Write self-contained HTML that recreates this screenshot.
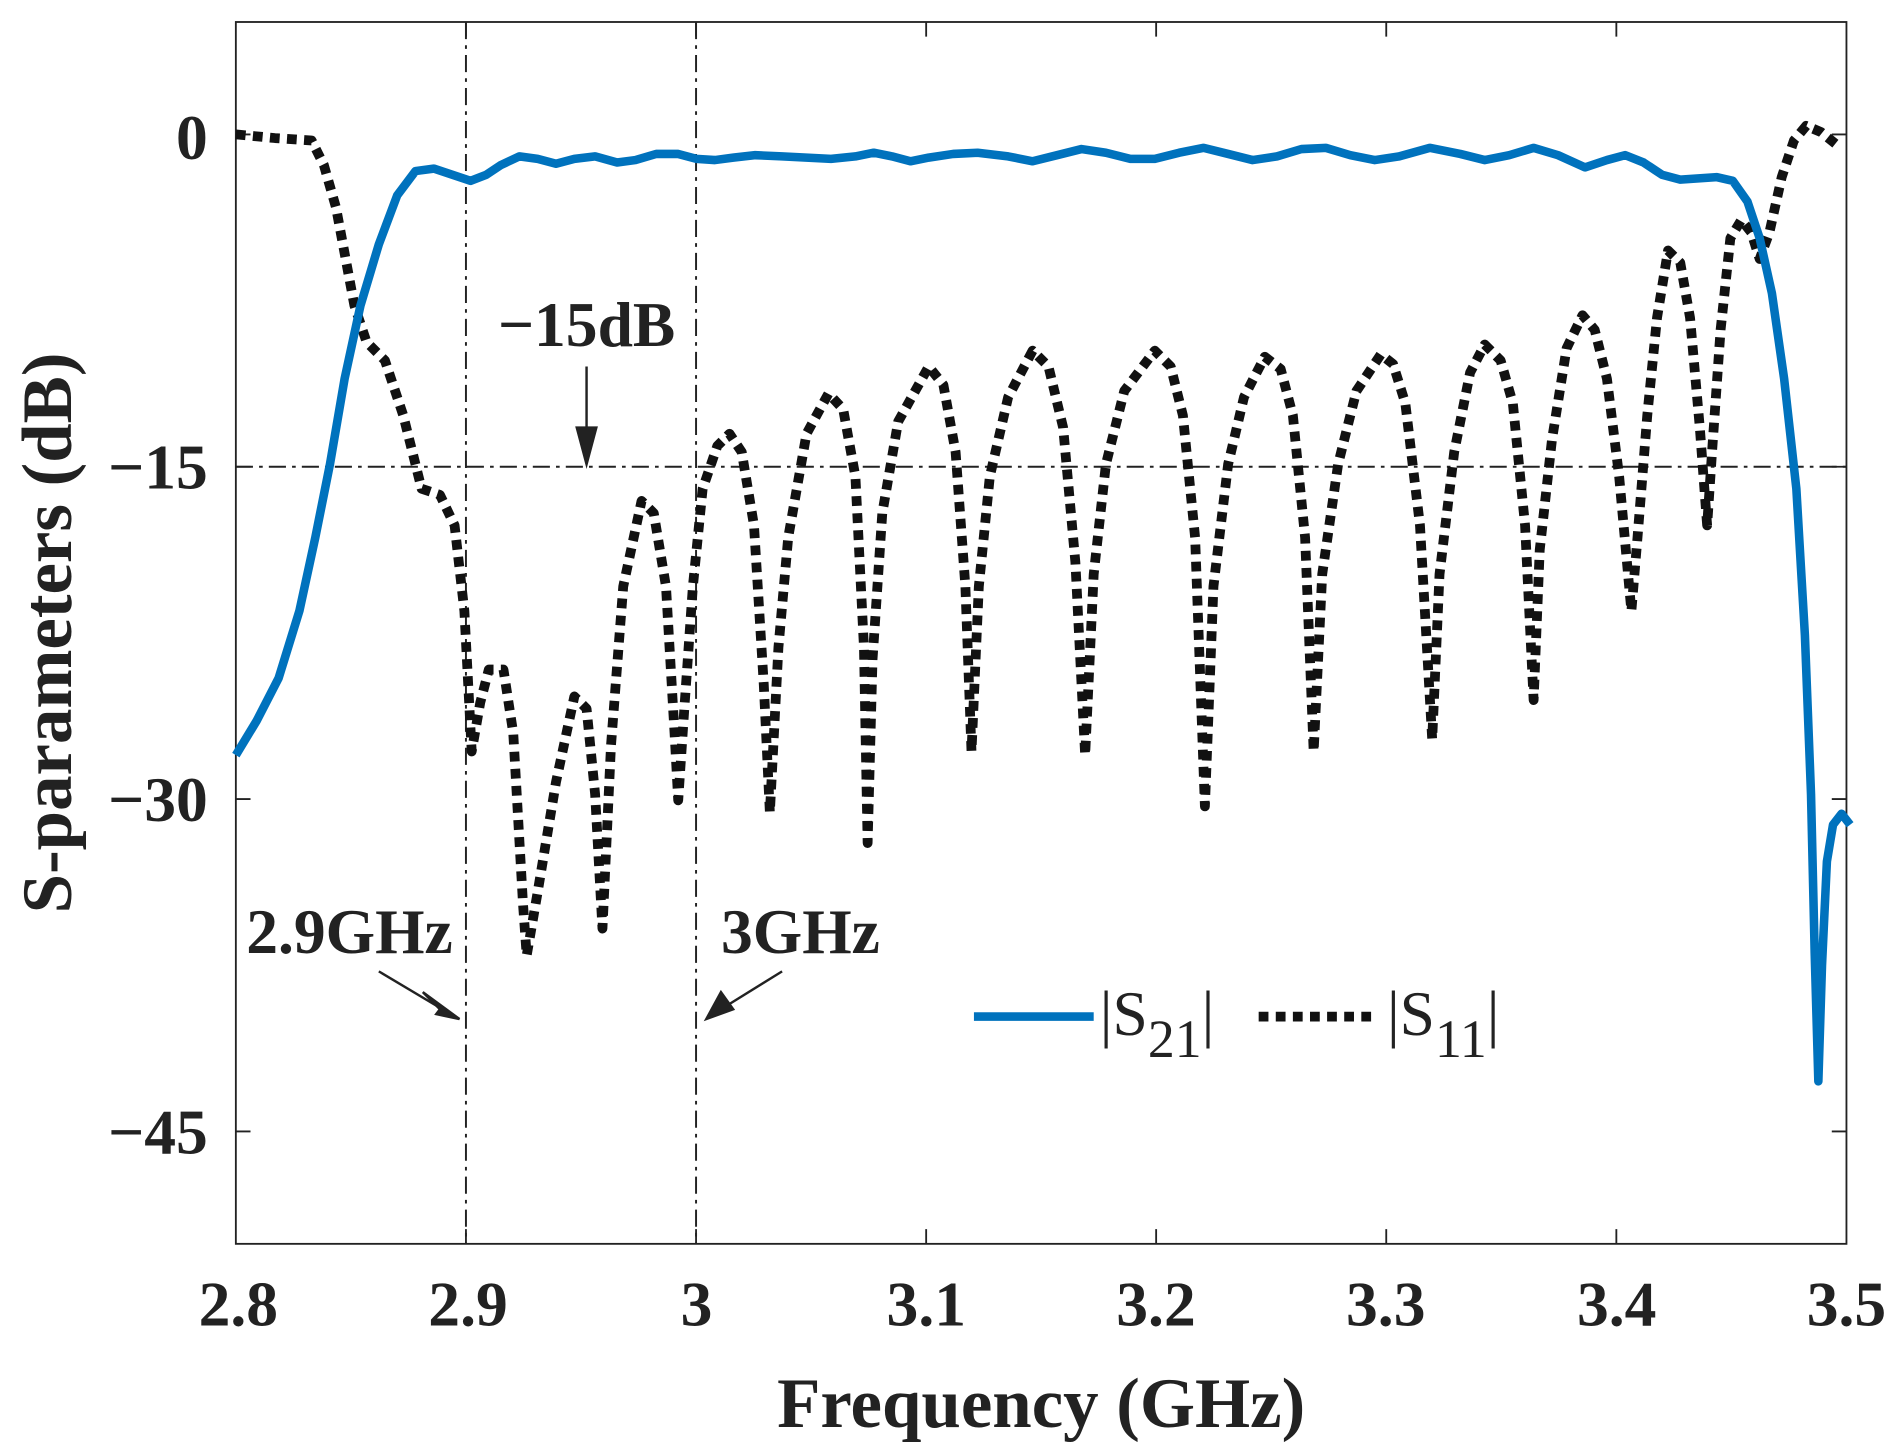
<!DOCTYPE html>
<html><head><meta charset="utf-8"><style>
html,body{margin:0;padding:0;background:#fff;width:1899px;height:1454px;overflow:hidden}
svg{display:block}
text{font-family:"Liberation Serif",serif;fill:#222}
.b{font-weight:bold}
</style></head><body>
<svg width="1899" height="1454" viewBox="0 0 1554 1190" preserveAspectRatio="none" xmlns="http://www.w3.org/2000/svg">
<rect x="193" y="18" width="1318" height="1000" fill="#fff" stroke="#222" stroke-width="1.5"/>
<g stroke="#222" stroke-width="1.5">
<path d="M381.3,18v12M381.3,1018v-12M569.6,18v12M569.6,1018v-12M757.9,18v12M757.9,1018v-12M946.1,18v12M946.1,1018v-12M1134.4,18v12M1134.4,1018v-12M1322.7,18v12M1322.7,1018v-12"/>
<path d="M193,110h12M1511,110h-12M193,382h12M1511,382h-12M193,654h12M1511,654h-12M193,926h12M1511,926h-12"/>
</g>
<g font-size="52" text-anchor="middle">
<text x="195" y="1085" class="b">2.8</text><text x="383" y="1085" class="b">2.9</text><text x="570" y="1085" class="b">3</text><text x="758" y="1085" class="b">3.1</text><text x="946" y="1085" class="b">3.2</text><text x="1134" y="1085" class="b">3.3</text><text x="1323" y="1085" class="b">3.4</text><text x="1511" y="1085" class="b">3.5</text>
</g>
<g font-size="52" text-anchor="end">
<text x="170" y="130" class="b">0</text><text x="170" y="400" class="b">−15</text><text x="170" y="672" class="b">−30</text><text x="170" y="944" class="b">−45</text>
</g>
<text x="852" y="1168" font-size="58" text-anchor="middle" class="b">Frequency (GHz)</text>
<text transform="translate(58,518) rotate(-90)" font-size="58" text-anchor="middle" class="b">S-parameters (dB)</text>
<g stroke="#222" stroke-width="1.6" stroke-dasharray="14 5 3 5" fill="none">
<path d="M381.3,18V1018M569.6,18V1018M193,382H1511"/>
</g>
<polyline fill="none" stroke="#111" stroke-width="8" stroke-dasharray="8 6" stroke-linejoin="round" points="193,110 225,113 255,115 265,135 275,170 290,250 300,280 315,295 330,340 345,400 360,405 372,430 380,500 386,615 393,575 400,548 412,548 420,600 428,740 431,782 440,730 455,640 470,570 480,580 487,650 493,760 500,610 510,480 525,410 535,420 545,480 552,600 555,655 560,580 567,480 575,400 587,365 597,355 607,370 617,430 625,560 630,665 637,530 645,440 660,355 678,322 690,335 700,390 707,530 710,690 714,540 722,420 735,345 760,300 772,315 782,370 790,480 795,615 801,480 810,390 825,325 845,287 858,300 870,350 880,460 888,618 895,470 905,380 920,320 945,287 958,300 968,340 978,440 986,660 993,480 1005,380 1018,325 1035,292 1048,302 1058,340 1068,440 1075,615 1082,470 1095,380 1110,320 1130,290 1140,298 1150,330 1162,430 1172,605 1178,470 1190,370 1203,305 1215,282 1228,295 1238,330 1248,430 1255,573 1260,450 1270,360 1282,285 1295,258 1305,270 1315,310 1325,390 1335,500 1340,440 1348,340 1356,260 1365,205 1375,215 1383,260 1391,350 1397,430 1401,370 1408,270 1416,195 1425,180 1433,190 1440,212 1448,190 1458,145 1468,115 1478,103 1490,108 1505,120"/>
<polyline fill="none" stroke="#0072BD" stroke-width="7" stroke-linejoin="round" points="193,618 210,590 228,555 245,500 258,440 270,380 282,310 295,250 310,200 325,160 340,140 355,138 370,143 385,148 398,143 410,135 425,128 440,130 455,134 470,130 487,128 505,133 520,131 537,126 555,126 570,130 585,131 600,129 618,127 640,128 660,129 680,130 700,128 715,125 730,128 745,132 760,129 780,126 800,125 825,128 845,132 865,127 885,122 905,125 925,130 945,130 965,125 985,121 1005,126 1025,131 1045,128 1065,122 1085,121 1105,127 1125,131 1145,128 1170,121 1195,126 1215,131 1235,127 1255,121 1275,127 1297,137 1315,131 1330,127 1345,133 1360,143 1375,147 1390,146 1405,145 1418,148 1430,165 1440,195 1450,240 1460,310 1470,400 1477,520 1482,650 1485,780 1488,885 1491,790 1495,705 1500,675 1507,666 1514,675"/>
<g stroke="#222" stroke-width="2" fill="#222">
<path d="M480,300V372" fill="none"/><path d="M472,350L480,380L488,350Z"/>
<path d="M310,795L362,826" fill="none"/><path d="M346,812L376,834L357,830L360,826Z"/>
<path d="M640,795L590,826" fill="none"/><path d="M590,812L578,834L600,826Z"/>
</g>
<text x="480" y="283" font-size="52" text-anchor="middle" class="b">−15dB</text>
<text x="286" y="780" font-size="52" text-anchor="middle" class="b">2.9GHz</text>
<text x="655" y="780" font-size="52" text-anchor="middle" class="b">3GHz</text>
<path d="M797,832H895" stroke="#0072BD" stroke-width="7"/>
<path d="M1030,832H1126" stroke="#111" stroke-width="8" stroke-dasharray="8 6"/>
<text x="900" y="847" font-size="52">|S<tspan font-size="44" dy="18">21</tspan><tspan dy="-18">|</tspan></text>
<text x="1135" y="847" font-size="52">|S<tspan font-size="44" dy="18">11</tspan><tspan dy="-18">|</tspan></text>
</svg>
</body></html>
